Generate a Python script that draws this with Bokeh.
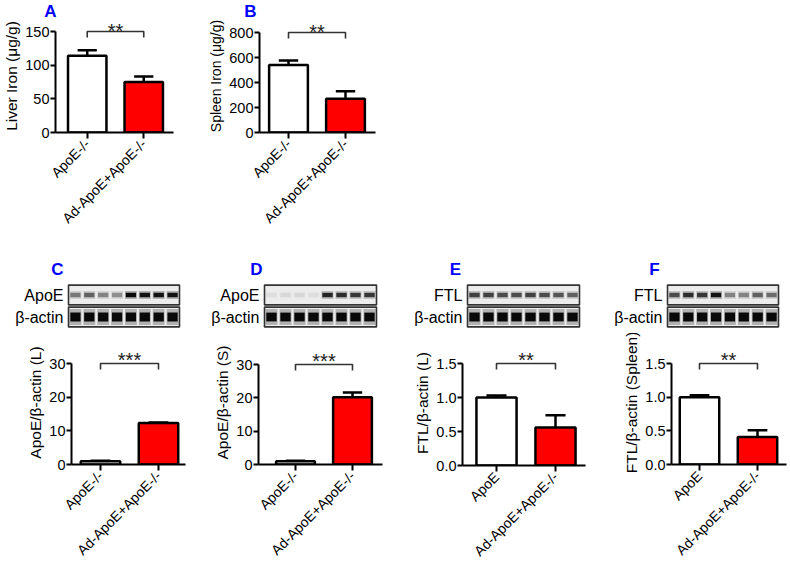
import math
from bokeh.plotting import figure
from bokeh.models import (Range1d, FixedTicker, ColumnDataSource, Spacer, PrintfTickFormatter)
from bokeh.layouts import row, column
from bokeh.core.properties import value
from bokeh.embed import file_html
from bokeh.resources import INLINE

FONT = "Liberation Sans"
BLUE = "#0000ff"
BAR_FILLS = ["#ffffff", "#ff0000"]

# ---------------- data ----------------
groups_ko = ["ApoE-/-", "Ad-ApoE+ApoE-/-"]
groups_ftl = ["ApoE", "Ad-ApoE+ApoE-/-"]

liver_iron = [114, 75]
liver_iron_err = [8, 8]
spleen_iron = [541, 270]
spleen_iron_err = [36, 60]
apoe_liver = [1.0, 12.3]
apoe_liver_err = [0.1, 0.2]
apoe_spleen = [1.0, 20.2]
apoe_spleen_err = [0.1, 1.4]
ftl_liver = [1.0, 0.56]
ftl_liver_err = [0.03, 0.18]
ftl_spleen = [1.0, 0.41]
ftl_spleen_err = [0.03, 0.10]

ticks_liver_iron = [0, 50, 100, 150]
ticks_spleen_iron = [0, 200, 400, 600, 800]
ticks_apoe = [0, 10, 20, 30]
ticks_ftl = [0.0, 0.5, 1.0, 1.5]

sig_A, sig_B, sig_C, sig_D, sig_E, sig_F = "**", "**", "***", "***", "**", "**"
letters_top = ["A", "B"]

lanes = [1, 2, 3, 4, 5, 6, 7, 8]
blot_rows_apoe = ["ApoE", "β-actin"]
blot_rows_ftl = ["FTL", "β-actin"]
blot_C_apoe = [0.45, 0.55, 0.40, 0.35, 1.00, 0.95, 0.95, 0.95]
blot_C_actin = [1.00, 1.00, 1.00, 1.00, 1.00, 1.00, 1.00, 1.00]
blot_D_apoe = [0.05, 0.07, 0.07, 0.05, 0.85, 0.80, 0.75, 0.75]
blot_D_actin = [1.00, 1.00, 1.00, 1.00, 1.00, 1.00, 1.00, 1.00]
blot_E_ftl = [0.70, 0.70, 0.65, 0.65, 0.70, 0.65, 0.60, 0.55]
blot_E_actin = [1.00, 1.00, 1.00, 1.00, 1.00, 1.00, 1.00, 1.00]
blot_F_ftl = [0.65, 0.80, 0.75, 0.95, 0.40, 0.40, 0.55, 0.50]
blot_F_actin = [1.00, 1.00, 1.00, 1.00, 1.00, 1.00, 1.00, 1.00]


def bare(w, h, xr, yr):
    p = figure(width=w, height=h, x_range=xr, y_range=yr, x_axis_location=None,
               y_axis_location=None, toolbar_location=None, output_backend="svg",
               min_border=0, frame_align=False, title=None)
    p.xgrid.visible = False
    p.ygrid.visible = False
    p.outline_line_color = None
    return p


def bar_panel(ox, oy, w, h, left, right, c1, c2, top, ax_top, zero,
              cats, vals, errs, yticks, ylabel, sig, fmt=None, star_dy=4.0,
              label_size="15.5px"):
    ymax = yticks[-1]
    ppu_y = (zero - ax_top) / ymax
    y_end = (zero - top) / ppu_y
    ppu_x = c2 - c1
    xs = [i + 1 for i in range(len(cats))]
    x_start = xs[0] - (c1 - left) / ppu_x
    x_end = xs[-1] + (right - c2) / ppu_x
    p = figure(width=w, height=h, x_range=Range1d(x_start, x_end),
               y_range=Range1d(0, y_end), toolbar_location=None,
               output_backend="svg", frame_align=False, title=None,
               min_border_left=left - ox, min_border_right=ox + w - right,
               min_border_top=top - oy, min_border_bottom=oy + h - zero)
    p.xgrid.visible = False
    p.ygrid.visible = False
    p.outline_line_color = None

    p.vbar(x=xs, top=vals, width=0.68, bottom=0, fill_color=BAR_FILLS,
           line_color="black", line_width=2.5)
    tops = [v + e for v, e in zip(vals, errs)]
    p.segment(x0=xs, y0=vals, x1=xs, y1=tops, line_color="black", line_width=2.5)
    p.segment(x0=[x - 0.17 for x in xs], y0=tops, x1=[x + 0.17 for x in xs],
              y1=tops, line_color="black", line_width=2.5)

    d = 6 / ppu_y
    p.line(x=[xs[0], xs[0], xs[1], xs[1]], y=[ymax - d, ymax, ymax, ymax - d],
           line_color="#333333", line_width=1.6)
    p.text(x=[(xs[0] + xs[1]) / 2], y=[ymax + star_dy / ppu_y], text=[sig],
           text_align="center", text_baseline="middle",
           text_font=value(FONT), text_font_size="20px", text_color="#222222")

    xa = p.xaxis[0]
    xa.ticker = FixedTicker(ticks=xs)
    xa.major_label_overrides = {x: c for x, c in zip(xs, cats)}
    xa.major_label_orientation = math.pi / 4
    xa.axis_line_width = 2
    xa.major_tick_line_width = 2
    xa.major_tick_out = 6
    xa.major_tick_in = 0
    xa.minor_tick_line_color = None
    xa.major_label_text_font = FONT
    xa.major_label_text_font_size = "14px"
    xa.major_label_text_color = "black"
    xa.major_label_standoff = 3

    ya = p.yaxis[0]
    ya.ticker = FixedTicker(ticks=yticks)
    ya.bounds = (0, ymax)
    if fmt:
        ya.formatter = PrintfTickFormatter(format=fmt)
    ya.axis_line_width = 2
    ya.major_tick_line_width = 2
    ya.major_tick_out = 5
    ya.major_tick_in = 0
    ya.minor_tick_line_color = None
    ya.major_label_text_font = FONT
    ya.major_label_text_font_size = "14.5px"
    ya.major_label_text_color = "black"
    ya.major_label_standoff = 1
    ya.axis_label = ylabel
    ya.axis_label_text_font = FONT
    ya.axis_label_text_font_size = label_size
    ya.axis_label_text_font_style = "normal"
    ya.axis_label_text_color = "black"
    ya.axis_label_standoff = 2
    return p


def blot_panel(ox, w, left, right, row_names, bands_p, bands_a, letter, lx):
    oy, h = 250, 83
    n = len(lanes)
    ppu_x = (right - left) / n
    ppu_y = 22.0
    base = 316.5  # screen y of the lower (β-actin) row centre
    xr = Range1d(-(left - ox) / ppu_x, n + (ox + w - right) / ppu_x)
    yr = Range1d(-(oy + h - base) / ppu_y, (base - oy) / ppu_y)
    p = bare(w, h, xr, yr)

    ys = [len(row_names) - 1 - i for i in range(len(row_names))]  # protein on top
    p.rect(x=[n / 2] * len(ys), y=ys, width=n, height=0.9,
           fill_color="#ececec", line_color="#333333", line_width=1.6)
    xc = [l - 0.5 for l in lanes]
    for yy, vals, hh in ((ys[0], bands_p, 0.20), (ys[1], bands_a, 0.40)):
        src = ColumnDataSource(dict(x=xc, y=[yy] * n,
                                    a1=[v * 0.25 for v in vals],
                                    a2=[v * 0.95 for v in vals]))
        p.rect(x="x", y="y", width=0.86, height=hh * 1.8, source=src,
               fill_color="black", fill_alpha="a1", line_color=None)
        p.rect(x="x", y="y", width=0.74, height=hh, source=src,
               fill_color="black", fill_alpha="a2", line_color=None)

    p.text(x=[-5 / ppu_x] * len(ys), y=ys, text=row_names, text_align="right",
           text_baseline="middle", text_font=value(FONT), text_font_size="16px",
           text_color="black")
    p.text(x=[(lx - left) / ppu_x], y=[(base - 268.5) / ppu_y], text=[letter],
           text_align="center", text_baseline="middle", text_font=value(FONT),
           text_font_size="17px", text_font_style="bold", text_color=BLUE)
    return p


# letter strip above panels A and B (page y 0..19)
strip = bare(788, 19, Range1d(0, 788), Range1d(0, 19))
strip.text(x=[50, 250], y=[8.5, 8.5], text=letters_top, text_align="center",
           text_baseline="middle", text_font=value(FONT), text_font_size="17px",
           text_font_style="bold", text_color=BLUE)

pA = bar_panel(0, 19, 190, 231, 54, 173, 86, 143, 19, 31, 132,
               groups_ko, liver_iron, liver_iron_err, ticks_liver_iron,
               "Liver Iron (μg/g)", sig_A, star_dy=1.0)
pB = bar_panel(190, 19, 200, 231, 259, 375, 288, 345, 19, 32, 132,
               groups_ko, spleen_iron, spleen_iron_err, ticks_spleen_iron,
               "Spleen Iron (μg/g)", sig_B, star_dy=1.0, label_size="14px")

bC = blot_panel(0, 200, 68, 179, blot_rows_apoe, blot_C_apoe, blot_C_actin, "C", 57)
bD = blot_panel(200, 200, 264, 376, blot_rows_apoe, blot_D_apoe, blot_D_actin, "D", 256)
bE = blot_panel(400, 195, 467, 579, blot_rows_ftl, blot_E_ftl, blot_E_actin, "E", 455)
bF = blot_panel(595, 193, 667, 778, blot_rows_ftl, blot_F_ftl, blot_F_actin, "F", 654)

pC = bar_panel(0, 333, 200, 243, 71, 185, 100, 158, 340, 363, 464,
               groups_ko, apoe_liver, apoe_liver_err, ticks_apoe,
               "ApoE/β-actin (L)", sig_C)
pD = bar_panel(200, 333, 200, 243, 258, 382, 295, 352, 340, 364, 464,
               groups_ko, apoe_spleen, apoe_spleen_err, ticks_apoe,
               "ApoE/β-actin (S)", sig_D)
pE = bar_panel(400, 333, 195, 243, 462, 585, 496, 555, 340, 363, 465,
               groups_ftl, ftl_liver, ftl_liver_err, ticks_ftl,
               "FTL/β-actin (L)", sig_E, fmt="%.1f")
pF = bar_panel(595, 333, 193, 243, 671, 786, 699, 757, 340, 363, 464,
               groups_ftl, ftl_spleen, ftl_spleen_err, ticks_ftl,
               "FTL/β-actin (Spleen)", sig_F, fmt="%.1f")

top_rows = column(strip, row(pA, pB, Spacer(width=398, height=231)))
bottom_row = row(column(bC, pC), column(bD, pD), column(bE, pE), column(bF, pF))
layout = column(top_rows, bottom_row)

open("out.html", "w").write(file_html(layout, INLINE))
